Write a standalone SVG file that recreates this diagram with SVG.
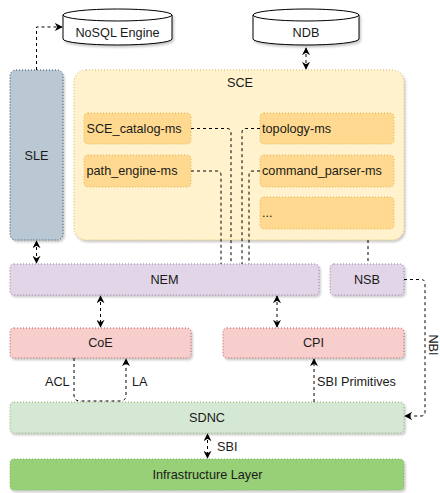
<svg xmlns="http://www.w3.org/2000/svg" width="440" height="493" viewBox="0 0 440 493">
<defs>
<filter id="sh" x="-10%" y="-10%" width="130%" height="140%">
<feDropShadow dx="1.5" dy="2" stdDeviation="1.2" flood-color="#000" flood-opacity="0.22"/>
</filter>
<marker id="ah" viewBox="0 0 10 10" refX="9" refY="5" markerWidth="8" markerHeight="8" orient="auto-start-reverse" markerUnits="userSpaceOnUse">
<path d="M0,0 L10,5 L0,10 L3,5 Z" fill="#000"/>
</marker>
</defs>
<style>
text{font-family:"Liberation Sans",Arial,sans-serif;font-size:12.7px;fill:#1a1a1a}
.c{text-anchor:middle;dominant-baseline:central}
.l{dominant-baseline:central}
.box{stroke-width:1;stroke-dasharray:1 2}
.cyl{fill:#fff;stroke:#000;stroke-width:1}
.ln{fill:none;stroke:#000;stroke-width:1;stroke-dasharray:3 3}
</style>
<g id="nosql">
<path class="cyl" d="M63,15 A54.5,6 0 0 1 172,15 L172,39 A54.5,6 0 0 1 63,39 Z" filter="url(#sh)"/>
<path class="cyl" d="M63,15 A54.5,6 0 0 0 172,15" fill="none"/>
<text class="c" x="117.5" y="33">NoSQL Engine</text>
</g>
<g id="ndb">
<path class="cyl" d="M253,15 A53,6 0 0 1 359,15 L359,39 A53,6 0 0 1 253,39 Z" filter="url(#sh)"/>
<path class="cyl" d="M253,15 A53,6 0 0 0 359,15" fill="none"/>
<text class="c" x="306" y="33">NDB</text>
</g>
<g id="sle">
<rect class="box" x="10" y="70" width="53" height="170" rx="6" fill="#bac8d3" stroke="#23445d" filter="url(#sh)"/>
<text class="c" x="36.5" y="156">SLE</text>
</g>
<g id="sce">
<rect class="box" x="74" y="70" width="330" height="170" rx="12" fill="#fff2cc" stroke="#d6b656" filter="url(#sh)"/>
<text class="c" x="240" y="83">SCE</text>
</g>
<g id="sce_catalog">
<rect class="box" x="84" y="113" width="107" height="31" rx="4" fill="#ffd98f" stroke="#d6b656"/>
<text class="l" x="86.5" y="128.5">SCE_catalog-ms</text>
</g>
<g id="path_engine">
<rect class="box" x="84" y="155" width="107" height="32" rx="4" fill="#ffd98f" stroke="#d6b656"/>
<text class="l" x="86.5" y="171">path_engine-ms</text>
</g>
<g id="topology">
<rect class="box" x="260" y="113" width="134" height="31" rx="4" fill="#ffd98f" stroke="#d6b656"/>
<text class="l" x="262" y="128.5">topology-ms</text>
</g>
<g id="command_parser">
<rect class="box" x="260" y="155" width="134" height="32" rx="4" fill="#ffd98f" stroke="#d6b656"/>
<text class="l" x="262" y="171">command_parser-ms</text>
</g>
<g id="more">
<rect class="box" x="260" y="197" width="134" height="32" rx="4" fill="#ffd98f" stroke="#d6b656"/>
<text class="l" x="262" y="213">...</text>
</g>
<g id="nem">
<rect class="box" x="10" y="264" width="309" height="31" rx="4" fill="#e1d5e7" stroke="#9673a6" filter="url(#sh)"/>
<text class="c" x="164.5" y="279.5">NEM</text>
</g>
<g id="nsb">
<rect class="box" x="330" y="264" width="74" height="31" rx="4" fill="#e1d5e7" stroke="#9673a6" filter="url(#sh)"/>
<text class="c" x="367" y="279.5">NSB</text>
</g>
<g id="coe">
<rect class="box" x="10" y="328" width="181" height="30" rx="4" fill="#f8cecc" stroke="#b85450" filter="url(#sh)"/>
<text class="c" x="100.5" y="343">CoE</text>
</g>
<g id="cpi">
<rect class="box" x="223" y="328" width="181" height="30" rx="4" fill="#f8cecc" stroke="#b85450" filter="url(#sh)"/>
<text class="c" x="313.5" y="343">CPI</text>
</g>
<g id="sdnc">
<rect class="box" x="10" y="402" width="394" height="31" rx="4" fill="#d5e8d4" stroke="#82b366" filter="url(#sh)"/>
<text class="c" x="207" y="418">SDNC</text>
</g>
<g id="infra">
<rect class="box" x="10" y="459" width="394" height="31" rx="4" fill="#97d077" stroke="#82b366" filter="url(#sh)"/>
<text class="c" x="207.5" y="474.5">Infrastructure Layer</text>
</g>
<g id="connectors">
<path class="ln" d="M36.5,70 L36.5,27 L62,27" marker-end="url(#ah)"/>
<path class="ln" d="M306,48 L306,69" marker-start="url(#ah)" marker-end="url(#ah)"/>
<path class="ln" d="M191,128.5 L227,128.5 Q231,128.5 231,132.5 L231,264"/>
<path class="ln" d="M191,171 L217,171 Q221,171 221,175 L221,264"/>
<path class="ln" d="M260,128.5 L246,128.5 Q242,128.5 242,132.5 L242,264"/>
<path class="ln" d="M260,171 L253,171 Q249,171 249,175 L249,264"/>
<path class="ln" d="M368,240 L368,264"/>
<path class="ln" d="M36.5,241 L36.5,263" marker-start="url(#ah)" marker-end="url(#ah)"/>
<path class="ln" d="M100.5,296 L100.5,327" marker-start="url(#ah)" marker-end="url(#ah)"/>
<path class="ln" d="M277,296 L277,327" marker-start="url(#ah)" marker-end="url(#ah)"/>
<path class="ln" d="M404,279.5 L421,279.5 Q425,279.5 425,283.5 L425,412 Q425,416 421,416 L405,416" marker-end="url(#ah)"/>
<path class="ln" d="M74,358 L74,395 Q74,401 80,401 L120,401 Q126,401 126,395 L126,359" marker-end="url(#ah)"/>
<path class="ln" d="M314,402 L314,359" marker-end="url(#ah)"/>
<path class="ln" d="M207.5,434 L207.5,458" marker-start="url(#ah)" marker-end="url(#ah)"/>
<text class="l" x="45" y="382">ACL</text>
<text class="l" x="132" y="382">LA</text>
<text class="l" x="317" y="382">SBI Primitives</text>
<text class="l" x="217" y="446.5">SBI</text>
<text class="c" transform="translate(433,345) rotate(90)">NBI</text>
</g>
</svg>
